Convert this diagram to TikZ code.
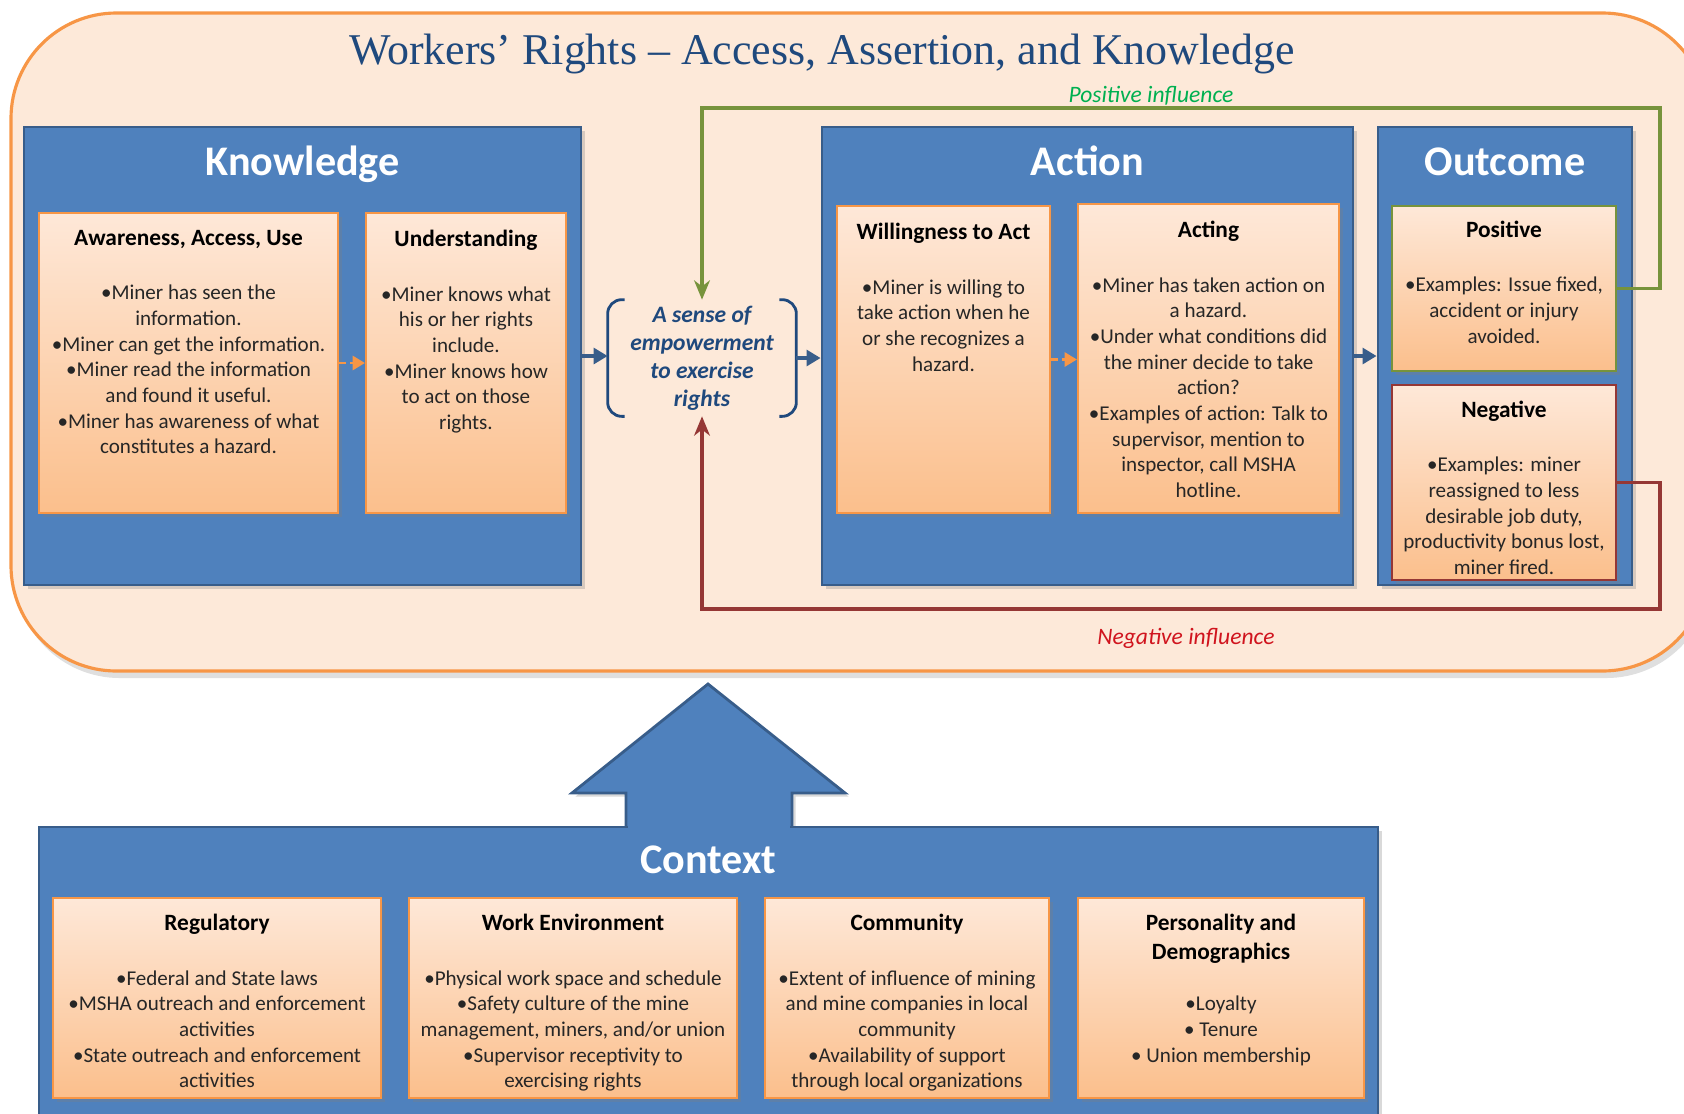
\documentclass[tikz,border=0pt]{standalone}
\usepackage{fontspec}
\setmainfont{Carlito}
\newfontfamily\headserif{Liberation Serif}
\usetikzlibrary{arrows.meta,calc,fit,shadows}

\definecolor{peachbg}{HTML}{FDE9D9}
\definecolor{orangeedge}{HTML}{F79646}
\definecolor{panelblue}{HTML}{4F81BD}
\definecolor{paneledge}{HTML}{385D8A}
\definecolor{boxtop}{HTML}{FEE8D8}
\definecolor{boxbottom}{HTML}{FBBF8C}
\definecolor{inkblue}{HTML}{1F497D}
\definecolor{posgreen}{HTML}{77933C}
\definecolor{negred}{HTML}{953735}
\definecolor{poslabel}{HTML}{00B050}
\definecolor{neglabel}{HTML}{D0141E}
\definecolor{bodyink}{HTML}{262626}

\tikzset{
	softshadow/.style={drop shadow={shadow xshift=2pt, shadow yshift=-2pt, opacity=0.3}},
	panel/.style={fill=panelblue, draw=paneledge, line width=1.6pt, inner sep=0pt, softshadow},
	peachbox/.style={top color=boxtop, bottom color=boxbottom, draw=orangeedge, line width=1.2pt, inner sep=0pt, softshadow},
	goodbox/.style={peachbox, draw=posgreen, line width=1.6pt},
	badbox/.style={peachbox, draw=negred, line width=1.6pt},
	header/.style={anchor=base, font=\fontsize{24}{28}\selectfont\bfseries, text=white},
	boxtext/.style={anchor=north, align=center, inner sep=0pt, text=bodyink, font=\fontsize{12}{14.6}\selectfont},
	flowarrow/.style={draw=paneledge, line width=2pt, -{Triangle[length=8pt,width=9pt]}},
	steparrow/.style={draw=orangeedge, line width=1.5pt, dash pattern=on 4pt off 2pt, -{Triangle[length=7pt,width=8pt]}},
	loopline/.style={line width=1.8pt, -{Stealth[length=11pt,width=9pt,inset=3.5pt]}}
}
\tikzstyle{influence}=[font=\fontsize{13.4}{16}\selectfont\itshape]
\newcommand{\boxtitle}[1]{{\fontsize{13.3}{16.4}\selectfont\bfseries\color{black}#1}}

\begin{document}
\begin{tikzpicture}[x=0.02cm, y=-0.02cm]
	\useasboundingbox (0,0) rectangle (1684,1113);

	% frame round the upper half
	\filldraw[fill=peachbg, draw=orangeedge, line width=1.8pt, rounded corners=60pt,
		drop shadow={shadow xshift=2pt, shadow yshift=-4pt, opacity=0.25}] (11,13) rectangle (1708,671);
	\node[font=\headserif\fontsize{25}{29}\selectfont, text=inkblue] (title) at (822,54) {Workers’ Rights – Access, Assertion, and Knowledge};

	% knowledge
	\node[panel, fit={(24,127) (581,585)}] (know) {};
	\node[header] (knowhead) at ($(know.north)+(0,50)$) {Knowledge};
	\node[peachbox, fit={(39,213) (338,513)}] (aware) {};
	\node[boxtext] (awaretext) at ($(aware.north)+(0,18)$) {\boxtitle{Awareness, Access, Use}\\[16.4pt]
		•Miner has seen the\\ information.\\ •Miner can get the information.\\ •Miner read the information\\
		and found it useful.\\ •Miner has awareness of what\\ constitutes a hazard.};
	\node[peachbox, fit={(366,213) (566,513)}] (under) {};
	\node[boxtext] (undertext) at ($(under.north)+(0,18)$) {\boxtitle{Understanding}\\[16.4pt]
		•Miner knows what\\ his or her rights\\ include.\\ •Miner knows how\\ to act on those\\ rights.};

	% empowerment between the brackets
	\node[align=center, minimum width=3.76cm, minimum height=2.32cm, inner sep=0pt, text=inkblue,
		font=\fontsize{13.4}{15.9}\selectfont\bfseries\itshape] (sense) at (702,358)
		{A sense of\\ empowerment\\ to exercise\\ rights};
	\draw[inkblue, line width=1.6pt, rounded corners=8pt] ($(sense.north west)+(17,0)$) -- (sense.north west)
		-- (sense.south west) -- ($(sense.south west)+(17,0)$);
	\draw[inkblue, line width=1.6pt, rounded corners=8pt] ($(sense.north east)+(-17,0)$) -- (sense.north east)
		-- (sense.south east) -- ($(sense.south east)+(-17,0)$);

	% action
	\node[panel, fit={(822,127) (1353,585)}] (act) {};
	\node[header] (acthead) at ($(act.north)+(0,50)$) {Action};
	\node[peachbox, fit={(837,206) (1050,513)}] (will) {};
	\node[boxtext] (willtext) at ($(will.north)+(0,18)$) {\boxtitle{Willingness to Act}\\[16.4pt]
		•Miner is willing to\\ take action when he\\ or she recognizes a\\ hazard.};
	\node[peachbox, fit={(1078,204) (1339,513)}] (acting) {};
	\node[boxtext] (actingtext) at ($(acting.north)+(0,18)$) {\boxtitle{Acting}\\[16.4pt]
		•Miner has taken action on\\ a hazard.\\ •Under what conditions did\\ the miner decide to take\\ action?\\
		•Examples of action: Talk to\\ supervisor, mention to\\ inspector, call MSHA\\ hotline.};

	% outcome
	\node[panel, fit={(1378,127) (1632,585)}] (outc) {};
	\node[header] (outchead) at ($(outc.north)+(0,50)$) {Outcome};
	\node[goodbox, fit={(1392,206) (1616,371)}] (pos) {};
	\node[boxtext] (postext) at ($(pos.north)+(0,16)$) {\boxtitle{Positive}\\[16.4pt]
		•Examples: Issue fixed,\\ accident or injury\\ avoided.};
	\node[badbox, fit={(1392,385) (1616,580)}] (neg) {};
	\node[boxtext] (negtext) at ($(neg.north)+(0,17)$) {\boxtitle{Negative}\\[16.4pt]
		•Examples: miner\\ reassigned to less\\ desirable job duty,\\ productivity bonus lost,\\ miner fired.};

	% flow along the row
	\draw[steparrow] (aware.east) -- (aware.east -| under.west);
	\draw[flowarrow] (know.east) -- (know.east -| sense.west);
	\draw[flowarrow] (sense.east) -- (sense.east -| act.west);
	\draw[steparrow] (will.east) -- (will.east -| acting.west);
	\draw[flowarrow] (act.east) -- (act.east -| outc.west);

	% feedback loops
	\coordinate (posturn) at (1660,108);
	\coordinate (negturn) at (1660,609);
	\draw[loopline, posgreen] (pos.east) -| (posturn) -| (sense.north);
	\draw[loopline, negred] (neg.east) -| (negturn) -| (sense.south);
	\node[influence, text=poslabel] (poslabel) at (1151,96) {Positive influence};
	\node[influence, text=neglabel] (neglabel) at (1186,638) {Negative influence};

	% context with its big arrow
	\filldraw[fill=panelblue, draw=paneledge, line width=1.6pt, softshadow] (626,830) -- (626,793) -- (572,793)
		-- (708,684) -- (845,793) -- (792,793) -- (792,830) -- cycle;
	\node[panel, fit={(39,827) (1378,1122)}] (ctx) {};
	\fill[panelblue] (627.6,820) rectangle (790.4,834);
	\node[header] (ctxhead) at ($(ctx.north)+(0,48)$) {Context};
	\node[peachbox, fit={(53,898) (381,1098)}] (reg) {};
	\node[boxtext] (regtext) at ($(reg.north)+(0,17)$) {\boxtitle{Regulatory}\\[16.4pt]
		•Federal and State laws\\ •MSHA outreach and enforcement\\ activities\\ •State outreach and enforcement\\ activities};
	\node[peachbox, fit={(409,898) (737,1098)}] (work) {};
	\node[boxtext] (worktext) at ($(work.north)+(0,17)$) {\boxtitle{Work Environment}\\[16.4pt]
		•Physical work space and schedule\\ •Safety culture of the mine\\ management, miners, and/or union\\
		•Supervisor receptivity to\\ exercising rights};
	\node[peachbox, fit={(765,898) (1049,1098)}] (comm) {};
	\node[boxtext] (commtext) at ($(comm.north)+(0,17)$) {\boxtitle{Community}\\[16.4pt]
		•Extent of influence of mining\\ and mine companies in local\\ community\\ •Availability of support\\
		through local organizations};
	\node[peachbox, fit={(1078,898) (1364,1098)}] (pers) {};
	\node[boxtext] (perstext) at ($(pers.north)+(0,17)$) {\boxtitle{Personality and}\\[1.8pt] \boxtitle{Demographics}\\[14.6pt]
		•Loyalty\\ • Tenure\\ • Union membership};
\end{tikzpicture}
\end{document}
